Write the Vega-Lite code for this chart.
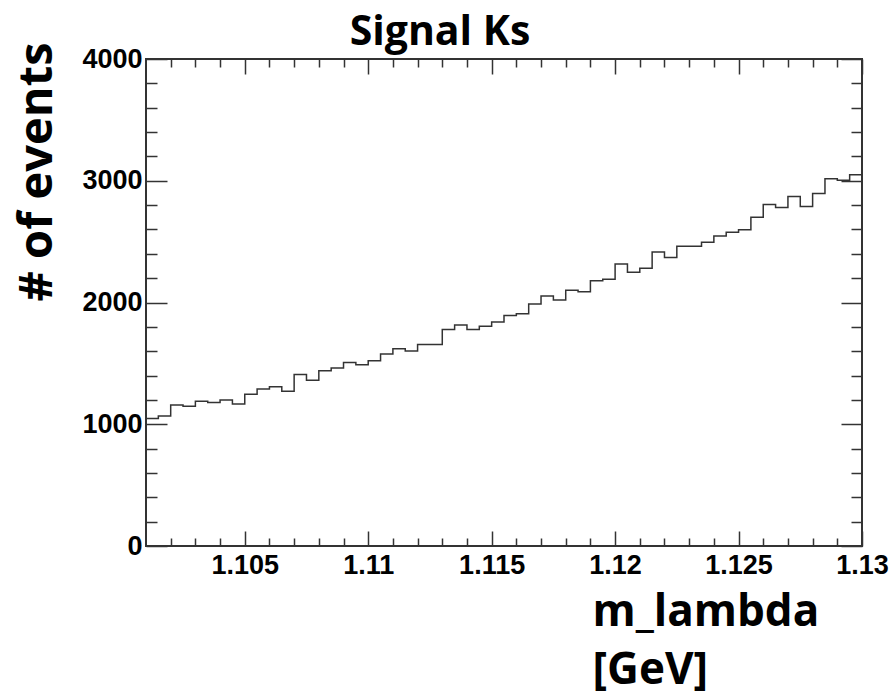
{
  "$schema": "https://vega.github.io/schema/vega-lite/v6.json",
  "autosize": "none",
  "width": 716,
  "height": 487,
  "padding": {"left": 146, "top": 59, "right": 30, "bottom": 149},
  "background": "white",
  "config": {
    "view": {"stroke": "#333", "strokeWidth": 2},
    "axis": {"grid": false, "domain": false, "tickColor": "#333", "tickWidth": 1.5, "labelFont": "Liberation Sans", "labelFontWeight": "bold", "labelFontSize": 27, "labelColor": "#000", "titleFont": "Open Sans", "titleFontWeight": "bold", "titleColor": "#000", "titleFontSize": 44}
  },
  "title": {"text": "Signal Ks", "font": "Open Sans", "fontWeight": "bold", "fontSize": 41, "color": "#000", "anchor": "middle", "frame": "group", "dx": -64, "offset": -12},
  "data": {"values": [
    {"lo": 1.101, "hi": 1.1015, "n": 1047},
    {"lo": 1.1015, "hi": 1.102, "n": 1068},
    {"lo": 1.102, "hi": 1.1025, "n": 1159},
    {"lo": 1.1025, "hi": 1.103, "n": 1148},
    {"lo": 1.103, "hi": 1.1035, "n": 1189},
    {"lo": 1.1035, "hi": 1.104, "n": 1178},
    {"lo": 1.104, "hi": 1.1045, "n": 1200},
    {"lo": 1.1045, "hi": 1.105, "n": 1167},
    {"lo": 1.105, "hi": 1.1055, "n": 1247},
    {"lo": 1.1055, "hi": 1.106, "n": 1290},
    {"lo": 1.106, "hi": 1.1065, "n": 1307},
    {"lo": 1.1065, "hi": 1.107, "n": 1271},
    {"lo": 1.107, "hi": 1.1075, "n": 1409},
    {"lo": 1.1075, "hi": 1.108, "n": 1362},
    {"lo": 1.108, "hi": 1.1085, "n": 1439},
    {"lo": 1.1085, "hi": 1.109, "n": 1461},
    {"lo": 1.109, "hi": 1.1095, "n": 1508},
    {"lo": 1.1095, "hi": 1.11, "n": 1488},
    {"lo": 1.11, "hi": 1.1105, "n": 1521},
    {"lo": 1.1105, "hi": 1.111, "n": 1576},
    {"lo": 1.111, "hi": 1.1115, "n": 1620},
    {"lo": 1.1115, "hi": 1.112, "n": 1601},
    {"lo": 1.112, "hi": 1.1125, "n": 1656},
    {"lo": 1.1125, "hi": 1.113, "n": 1656},
    {"lo": 1.113, "hi": 1.1135, "n": 1779},
    {"lo": 1.1135, "hi": 1.114, "n": 1815},
    {"lo": 1.114, "hi": 1.1145, "n": 1779},
    {"lo": 1.1145, "hi": 1.115, "n": 1804},
    {"lo": 1.115, "hi": 1.1155, "n": 1839},
    {"lo": 1.1155, "hi": 1.116, "n": 1894},
    {"lo": 1.116, "hi": 1.1165, "n": 1908},
    {"lo": 1.1165, "hi": 1.117, "n": 1988},
    {"lo": 1.117, "hi": 1.1175, "n": 2053},
    {"lo": 1.1175, "hi": 1.118, "n": 2020},
    {"lo": 1.118, "hi": 1.1185, "n": 2100},
    {"lo": 1.1185, "hi": 1.119, "n": 2089},
    {"lo": 1.119, "hi": 1.1195, "n": 2179},
    {"lo": 1.1195, "hi": 1.12, "n": 2191},
    {"lo": 1.12, "hi": 1.1205, "n": 2317},
    {"lo": 1.1205, "hi": 1.121, "n": 2248},
    {"lo": 1.121, "hi": 1.1215, "n": 2281},
    {"lo": 1.1215, "hi": 1.122, "n": 2415},
    {"lo": 1.122, "hi": 1.1225, "n": 2369},
    {"lo": 1.1225, "hi": 1.123, "n": 2462},
    {"lo": 1.123, "hi": 1.1235, "n": 2462},
    {"lo": 1.1235, "hi": 1.124, "n": 2495},
    {"lo": 1.124, "hi": 1.1245, "n": 2547},
    {"lo": 1.1245, "hi": 1.125, "n": 2578},
    {"lo": 1.125, "hi": 1.1255, "n": 2597},
    {"lo": 1.1255, "hi": 1.126, "n": 2701},
    {"lo": 1.126, "hi": 1.1265, "n": 2805},
    {"lo": 1.1265, "hi": 1.127, "n": 2780},
    {"lo": 1.127, "hi": 1.1275, "n": 2871},
    {"lo": 1.1275, "hi": 1.128, "n": 2788},
    {"lo": 1.128, "hi": 1.1285, "n": 2895},
    {"lo": 1.1285, "hi": 1.129, "n": 3016},
    {"lo": 1.129, "hi": 1.1295, "n": 3005},
    {"lo": 1.1295, "hi": 1.13, "n": 3049}
  ]},
  "transform": [{"fold": ["lo", "hi"], "as": ["edge", "x"]}],
  "resolve": {"axis": {"x": "independent", "y": "independent"}},
  "layer": [
    {
      "mark": {"type": "line", "color": "#333", "strokeWidth": 1.5, "interpolate": "linear", "clip": true},
      "encoding": {
        "x": {"field": "x", "type": "quantitative", "scale": {"domain": [1.101, 1.13], "nice": false, "zero": false},
          "axis": {"orient": "bottom", "values": [1.105, 1.11, 1.115, 1.12, 1.125, 1.13], "format": ".3~f", "tickSize": -15, "labelPadding": 21, "labelFlush": false, "labelOverlap": false, "labelBound": false,
            "title": ["m_lambda", "[GeV]"], "titleX": 446, "titleY": 79, "titleAlign": "left", "titleBaseline": "alphabetic", "titleLineHeight": 58, "titleAngle": 0}},
        "y": {"field": "n", "type": "quantitative", "scale": {"domain": [0, 4000], "nice": false},
          "axis": {"orient": "left", "values": [0, 1000, 2000, 3000, 4000], "format": "d", "tickSize": -21, "labelPadding": 25, "labelFlush": false, "labelOverlap": false, "labelBound": false,
            "title": "# of events", "titleAngle": -90, "titleX": -95, "titleY": -17, "titleAlign": "right", "titleBaseline": "alphabetic", "titleFontSize": 47}},
        "order": [{"field": "x", "type": "quantitative"}, {"field": "edge", "type": "nominal"}]
      }
    },
    {
      "mark": {"type": "point", "opacity": 0},
      "encoding": {
        "x": {"field": "x", "type": "quantitative", "axis": {"orient": "bottom", "values": [1.102, 1.103, 1.104, 1.106, 1.107, 1.108, 1.109, 1.111, 1.112, 1.113, 1.114, 1.116, 1.117, 1.118, 1.119, 1.121, 1.122, 1.123, 1.124, 1.126, 1.127, 1.128, 1.129], "tickSize": -8, "labels": false, "title": null}},
        "y": {"field": "n", "type": "quantitative", "axis": {"orient": "left", "values": [200, 400, 600, 800, 1200, 1400, 1600, 1800, 2200, 2400, 2600, 2800, 3200, 3400, 3600, 3800], "tickSize": -11, "labels": false, "title": null}}
      }
    },
    {
      "mark": {"type": "point", "opacity": 0},
      "encoding": {
        "x": {"field": "x", "type": "quantitative", "axis": {"orient": "top", "values": [1.105, 1.11, 1.115, 1.12, 1.125, 1.13], "tickSize": -15, "labels": false, "title": null}},
        "y": {"field": "n", "type": "quantitative", "axis": {"orient": "right", "values": [0, 1000, 2000, 3000, 4000], "tickSize": -21, "labels": false, "title": null}}
      }
    },
    {
      "mark": {"type": "point", "opacity": 0},
      "encoding": {
        "x": {"field": "x", "type": "quantitative", "axis": {"orient": "top", "values": [1.102, 1.103, 1.104, 1.106, 1.107, 1.108, 1.109, 1.111, 1.112, 1.113, 1.114, 1.116, 1.117, 1.118, 1.119, 1.121, 1.122, 1.123, 1.124, 1.126, 1.127, 1.128, 1.129], "tickSize": -8, "labels": false, "title": null}},
        "y": {"field": "n", "type": "quantitative", "axis": {"orient": "right", "values": [200, 400, 600, 800, 1200, 1400, 1600, 1800, 2200, 2400, 2600, 2800, 3200, 3400, 3600, 3800], "tickSize": -11, "labels": false, "title": null}}
      }
    }
  ]
}
